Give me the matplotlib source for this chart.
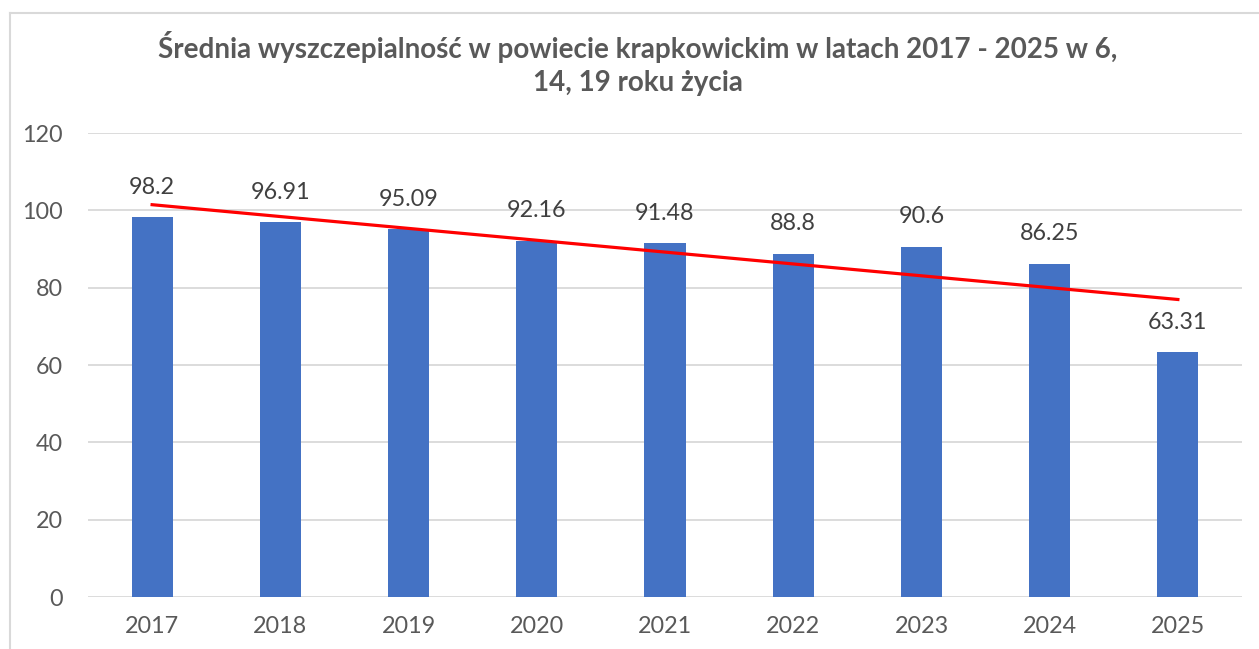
import matplotlib
matplotlib.use("Agg")
import matplotlib.pyplot as plt
import numpy as np
from matplotlib.lines import Line2D

# dane
years = ["2017", "2018", "2019", "2020", "2021", "2022", "2023", "2024", "2025"]
values = [98.2, 96.91, 95.09, 92.16, 91.48, 88.8, 90.6, 86.25, 63.31]
value_labels = ["98.2", "96.91", "95.09", "92.16", "91.48", "88.8", "90.6", "86.25", "63.31"]
y_ticks = [0, 20, 40, 60, 80, 100, 120]

plt.rcParams['font.family'] = ['Lato', 'DejaVu Sans']
txt = '#595959'

fig = plt.figure(figsize=(12.59, 6.49), dpi=100)
ax = fig.add_axes([88 / 1259, 52 / 649, (1242 - 88) / 1259, (597 - 133) / 649])

x = np.arange(len(years))
ax.bar(x, values, width=0.32, color='#4472C4', zorder=2)

# linia trendu (regresja liniowa)
a, b = np.polyfit(x, values, 1)
ax.plot(x, a * x + b, color='#FF0000', linewidth=2.3, zorder=3)

for xi, v, lab in zip(x, values, value_labels):
    ax.annotate(lab, (xi, v), xytext=(0, 21.5), textcoords='offset points',
                ha='center', va='center', fontsize=16.8, color='#404040', zorder=4)

ax.set_xlim(-0.5, len(years) - 0.5)
ax.set_ylim(0, 120)
ax.set_yticks(y_ticks)
ax.set_xticks(x)
ax.set_xticklabels(years)
ax.tick_params(axis='both', length=0, labelsize=16.8, labelcolor=txt)
ax.tick_params(axis='y', pad=18)
ax.tick_params(axis='x', pad=13.5)
ax.grid(axis='y', color='#d9d9d9', linewidth=1.3, zorder=0)
for s in ax.spines.values():
    s.set_visible(False)

fig.text(638 / 1259, 1 - 47 / 649, "Średnia wyszczepialność w powiecie krapkowickim w latach 2017 - 2025 w 6,",
         ha='center', va='center', fontsize=20, fontweight='bold', color=txt)
fig.text(638 / 1259, 1 - 83 / 649, "14, 19 roku życia",
         ha='center', va='center', fontsize=20, fontweight='bold', color=txt)

# ramka wykresu
fig.add_artist(Line2D([10 / 1259, 1], [1 - 13 / 649] * 2, color='#d9d9d9', linewidth=1.5))
fig.add_artist(Line2D([10 / 1259] * 2, [0, 1 - 13 / 649], color='#d9d9d9', linewidth=1.5))

fig.savefig("out.png", dpi=100)
